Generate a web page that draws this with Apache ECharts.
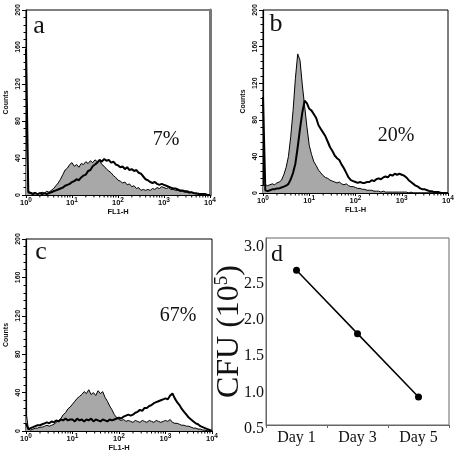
<!DOCTYPE html>
<html><head><meta charset="utf-8">
<script src="https://cdn.jsdelivr.net/npm/echarts@6/dist/echarts.min.js"></script>
<style>html,body{margin:0;padding:0;background:#fff}#c{width:460px;height:457px}</style>
</head><body><div id="c"></div>
<script>
// FL1-H channel positions, as decade exponents (10^x)
const fl1Exp = [0,0.05,0.1,0.15,0.2,0.25,0.3,0.35,0.4,0.45,0.5,0.55,0.6,0.65,0.7,0.75,0.8,0.85,0.9,0.95,
  1,1.05,1.1,1.15,1.2,1.25,1.3,1.35,1.4,1.45,1.5,1.55,1.6,1.65,1.7,1.75,1.8,1.85,1.9,1.95,
  2,2.05,2.1,2.15,2.2,2.25,2.3,2.35,2.4,2.45,2.5,2.55,2.6,2.65,2.7,2.75,2.8,2.85,2.9,2.95,
  3,3.05,3.1,3.15,3.2,3.25,3.3,3.35,3.4,3.45,3.5,3.55,3.6,3.65,3.7,3.75,3.8,3.85,3.9,3.95,4];

// panel a counts
const ctrlA = [80,4,3,2,3,1,2,3,2,4,3,5,7,10,13,17,22,27,29,33,
  35,31,33,30,34,33,36,34,37,35,38,36,37,33,31,28,26,24,21,19,
  16,15,13,14,11,12,9,10,7,8,5,6,5,6,5,7,6,8,7,9,
  8,7,8,6,6,5,5,4,4,3,3,2,3,2,1,2,1,1,0,0,0];
const trtA = [158,3,2,1,2,1,2,1,2,1,2,3,4,5,6,7,8,10,11,12,
  14,15,17,16,19,21,22,26,27,31,33,35,38,36,39,37,38,35,36,33,
  32,30,31,28,30,27,28,26,27,24,23,20,17,16,14,13,14,12,11,12,
  11,10,9,8,7,7,6,5,5,4,4,3,3,2,2,1,1,1,1,0,0];
// panel b counts
const ctrlB = [8,9,8,9,10,9,11,12,14,20,28,40,62,90,125,152,145,118,95,72,
  52,42,34,30,25,22,19,17,16,14,13,12,11,12,10,9,10,8,7,7,
  6,5,5,4,4,3,3,3,2,2,2,1,2,1,1,1,1,1,1,1,
  1,1,1,0,1,0,0,0,0,0,0,0,0,0,0,0,0,0,0,0,0];
const trtB = [105,3,2,3,4,4,5,5,6,7,8,10,15,22,32,50,70,88,101,98,
  92,90,86,82,74,70,66,62,56,50,46,41,38,36,31,27,22,17,14,13,
  12,11,12,11,11,12,12,14,13,15,16,15,17,18,17,20,19,21,20,21,
  20,19,17,14,12,10,8,7,5,4,4,3,2,2,1,1,1,0,0,0,0];
// panel c counts
const ctrlC = [20,2,1,2,3,3,4,4,5,6,5,6,7,9,11,13,17,19,23,25,
  28,31,34,36,38,41,39,43,38,40,37,42,39,41,35,31,26,22,17,14,
  12,11,12,10,11,10,9,11,10,9,11,10,9,11,10,9,11,10,9,10,
  11,10,12,9,8,8,7,6,6,5,5,4,3,3,2,2,1,1,0,0,0];
const trtC = [8,2,3,4,5,6,6,7,8,9,8,10,9,11,10,12,11,13,11,12,
  12,10,13,11,12,10,12,11,13,10,12,11,10,12,11,10,12,11,12,13,
  14,13,15,16,17,16,17,19,20,22,21,24,24,26,27,29,30,31,32,33,
  34,33,37,39,34,30,27,23,20,17,14,12,10,8,7,5,4,3,2,1,0];

const percents = ['7%','20%','67%'];
const panelLetters = ['a','b','c','d'];

// panel d
const cfuDays = ['Day 1','Day 3','Day 5'];
const cfuValues = [2.68, 1.81, 0.94];

// axis tick settings (values)
const countMax = 200, countStep = 40;
const minorMult = [2,3,4,5,6,7,8,9];

const pair = arr => fl1Exp.map((x,i)=>[x, arr[i]]);
const minorTickData = [];
[0,1,2,3].forEach(d => minorMult.forEach(m => minorTickData.push([d + Math.log10(m), 0])));

const SANS = 'Liberation Sans, Arial, sans-serif';
const SERIF = 'Liberation Serif, Times New Roman, serif';

const grids = [
  {left:26, top:10, width:184, height:185, show:true, borderColor:'#000', borderWidth:1},
  {left:263, top:10, width:185, height:183, show:true, borderColor:'#000', borderWidth:1},
  {left:26, top:239, width:186, height:192, show:true, borderColor:'#000', borderWidth:1},
  {left:266, top:247, width:183, height:182, show:false},               // panel d data area
  {left:266, top:238, width:183, height:187, show:true, borderColor:'#666', borderWidth:1} // panel d frame
];
const gridOpt = grids.map(g=>Object.assign({containLabel:false}, g));

const xAxes = [], yAxes = [], series = [];
const hist = [[ctrlA,trtA],[ctrlB,trtB],[ctrlC,trtC]];
const xNameGap = [11, 13, 11];
hist.forEach((h, i) => {
  xAxes.push({
    type:'value', gridIndex:i, min:0, max:4, interval:1,
    name:'FL1-H', nameLocation:'middle', nameGap:xNameGap[i],
    nameTextStyle:{fontFamily:SANS, fontSize:7.5, fontWeight:'bold', color:'#111'},
    axisLine:{lineStyle:{color:'#000', width:1.2}},
    axisTick:{length:3, lineStyle:{color:'#000'}},
    splitLine:{show:false},
    axisLabel:{margin:2, formatter: v => '{b|10}{s|' + v + '}',
      rich:{b:{fontFamily:SANS, fontSize:7.5, fontWeight:'bold', color:'#111', lineHeight:10, verticalAlign:'bottom'},
            s:{fontFamily:SANS, fontSize:6.5, fontWeight:'bold', color:'#111', lineHeight:10, verticalAlign:'top'}}}
  });
  yAxes.push({
    type:'value', gridIndex:i, min:0, max:countMax, interval:countStep,
    name:'Counts', nameLocation:'middle', nameGap:16, nameRotate:90,
    nameTextStyle:{fontFamily:SANS, fontSize:7, fontWeight:'bold', color:'#111'},
    axisLine:{show:true, lineStyle:{color:'#000', width:1.2}},
    axisTick:{length:4, lineStyle:{color:'#000'}},
    minorTick:{show:true, splitNumber:5, length:2.5, lineStyle:{color:'#000'}},
    splitLine:{show:false},
    axisLabel:{rotate:90, margin:4, fontFamily:SANS, fontSize:7, fontWeight:'bold', color:'#111'}
  });
  series.push({
    type:'line', xAxisIndex:i, yAxisIndex:i, data:pair(h[0]), symbol:'none', silent:true, clip:false,
    lineStyle:{color:'#000', width:1}, areaStyle:{color:'#a8a8a8', opacity:1}, z:2
  });
  series.push({
    type:'line', xAxisIndex:i, yAxisIndex:i, data:pair(h[1]), symbol:'none', silent:true, clip:false,
    lineStyle:{color:'#000', width:2}, z:3
  });
  series.push({
    type:'custom', xAxisIndex:i, yAxisIndex:i, data:minorTickData, silent:true, clip:false,
    renderItem:(params, api) => {
      const p = api.coord([api.value(0), 0]);
      return {type:'line', shape:{x1:p[0], y1:p[1], x2:p[0], y2:p[1]+2.5}, style:{stroke:'#000', lineWidth:1}};
    }
  });
});
// panel d data axes (index 3)
xAxes.push({
  type:'category', gridIndex:3, data:cfuDays, boundaryGap:true,
  axisLine:{show:false}, axisTick:{show:false},
  axisLabel:{margin:1, fontFamily:SERIF, fontSize:16, color:'#111'}
});
yAxes.push({
  type:'value', gridIndex:3, min:0.5, max:3.0, interval:0.5,
  axisLine:{show:false}, axisTick:{show:false}, splitLine:{show:false},
  axisLabel:{margin:2, fontFamily:SERIF, fontSize:16, color:'#111', formatter: v => v.toFixed(1)}
});
// panel d frame axes (index 4)
xAxes.push({
  type:'category', gridIndex:4, data:cfuDays, boundaryGap:true,
  axisLine:{lineStyle:{color:'#666', width:1}},
  axisTick:{show:true, length:3, lineStyle:{color:'#666'}},
  axisLabel:{show:false}
});
yAxes.push({
  type:'value', gridIndex:4, min:0, max:1,
  name:'CFU (10{s|5})', nameLocation:'middle', nameGap:19, nameRotate:90,
  nameTextStyle:{fontFamily:SERIF, fontSize:32, color:'#111',
    rich:{s:{fontFamily:SERIF, fontSize:19, color:'#111', verticalAlign:'top', lineHeight:34}}},
  axisLine:{show:true, lineStyle:{color:'#666', width:1}}, axisTick:{show:false}, axisLabel:{show:false}, splitLine:{show:false}
});
// thick gray right frame on panel a (index 5)
yAxes.push({type:'value', gridIndex:0, position:'right', min:0, max:countMax,
  axisLine:{show:true, lineStyle:{color:'#777', width:3}}, axisTick:{show:false}, axisLabel:{show:false}, splitLine:{show:false}});

series.push({
  type:'line', xAxisIndex:3, yAxisIndex:3, data:cfuValues, symbol:'circle', symbolSize:7,
  itemStyle:{color:'#000'}, lineStyle:{color:'#000', width:1.5}, silent:true
});

const letterPos = [[39,26],[276,24],[41,252],[277,255]];
const letterSize = [26,26,26,24];
const pctPos = [[166,140],[396,136],[178,316]];
const graphic = [];
panelLetters.forEach((t,i)=>graphic.push({type:'text', x:letterPos[i][0], y:letterPos[i][1],
  style:{text:t, font:letterSize[i]+'px '+SERIF, fill:'#111', align:'center', verticalAlign:'middle'}}));
percents.forEach((t,i)=>graphic.push({type:'text', x:pctPos[i][0], y:pctPos[i][1],
  style:{text:t, font:'20px '+SERIF, fill:'#111', align:'center', verticalAlign:'middle'}}));

const chart = echarts.init(document.getElementById('c'), null, {renderer:'canvas'});
chart.setOption({animation:false, backgroundColor:'#fff', grid:gridOpt, xAxis:xAxes, yAxis:yAxes, series, graphic});
</script></body></html>
